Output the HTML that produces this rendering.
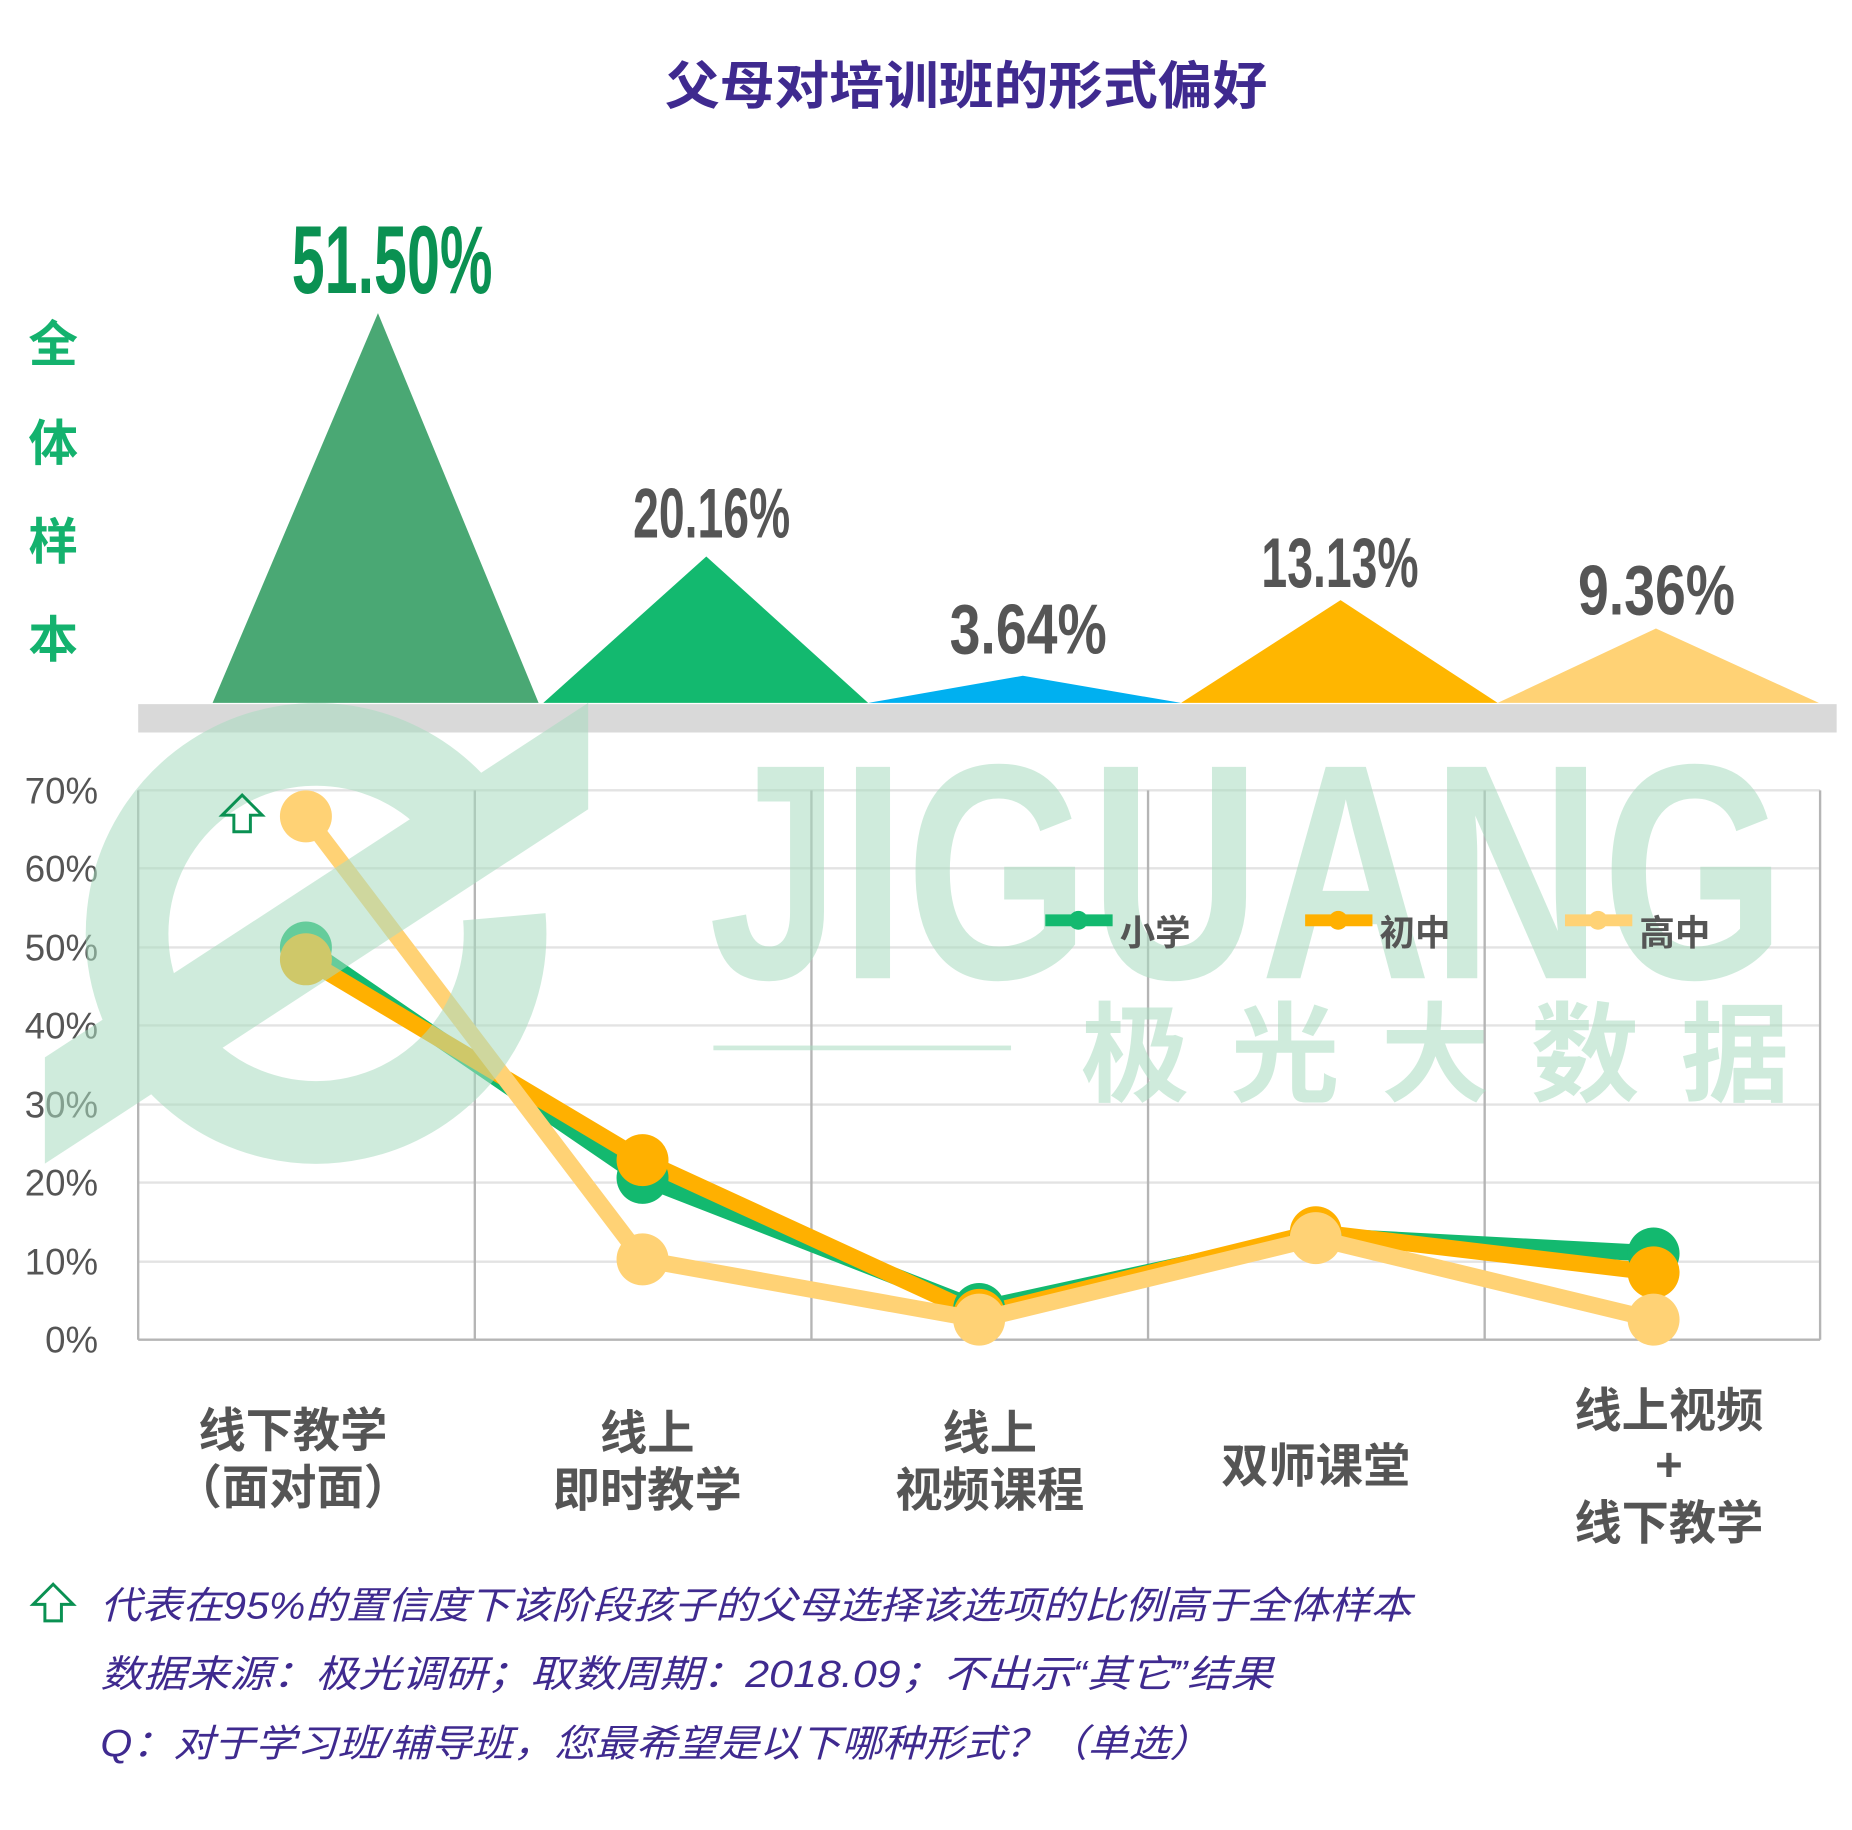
<!DOCTYPE html>
<html><head><meta charset="utf-8"><style>
html,body{margin:0;padding:0;background:#fff;}
svg{display:block;}
text{font-family:"Liberation Sans","Noto Sans CJK SC",sans-serif;}
</style></head><body>
<svg width="1852" height="1830" viewBox="0 0 1568 1549" preserveAspectRatio="none" xmlns="http://www.w3.org/2000/svg">
<rect width="1568" height="1549" fill="#fff"/>
<text x="563" y="88" font-size="44" font-weight="bold" fill="#3f2a8f" textLength="510" lengthAdjust="spacingAndGlyphs">父母对培训班的形式偏好</text>
<g font-size="42" font-weight="bold" fill="#14b26e" text-anchor="middle">
<text x="45" y="306">全</text><text x="45" y="390">体</text><text x="45" y="473">样</text><text x="45" y="556">本</text>
</g>
<polygon points="180,595 320,265 456,595" fill="#4aa874"/>
<polygon points="460,595 598,471 735,595" fill="#13b96f"/>
<polygon points="735,595 866,572 1000,595" fill="#00b0f0"/>
<polygon points="1000,595 1135,508 1268,595" fill="#ffb600"/>
<polygon points="1268,595 1402,532 1540,595" fill="#ffd275"/>
<g font-weight="bold">
<text x="247" y="248" font-size="82" fill="#0a9152" textLength="170" lengthAdjust="spacingAndGlyphs">51.50%</text>
<text x="536" y="455" font-size="60" fill="#555" textLength="133" lengthAdjust="spacingAndGlyphs">20.16%</text>
<text x="804" y="553" font-size="60" fill="#555" textLength="133" lengthAdjust="spacingAndGlyphs">3.64%</text>
<text x="1068" y="497" font-size="60" fill="#555" textLength="133" lengthAdjust="spacingAndGlyphs">13.13%</text>
<text x="1336" y="520" font-size="60" fill="#555" textLength="133" lengthAdjust="spacingAndGlyphs">9.36%</text>
</g>
<rect x="117" y="596" width="1438" height="24" fill="#d9d9d9"/>
<g stroke="#e3e3e3" stroke-width="2">
<line x1="117" y1="669" x2="1541" y2="669"/><line x1="117" y1="735" x2="1541" y2="735"/>
<line x1="117" y1="802" x2="1541" y2="802"/><line x1="117" y1="868" x2="1541" y2="868"/>
<line x1="117" y1="935" x2="1541" y2="935"/><line x1="117" y1="1001" x2="1541" y2="1001"/>
<line x1="117" y1="1068" x2="1541" y2="1068"/>
</g>
<g stroke="#b5b5b5" stroke-width="2">
<line x1="117" y1="669" x2="117" y2="1134"/><line x1="402" y1="669" x2="402" y2="1134"/>
<line x1="687" y1="669" x2="687" y2="1134"/><line x1="972" y1="669" x2="972" y2="1134"/>
<line x1="1257" y1="669" x2="1257" y2="1134"/><line x1="1541" y1="669" x2="1541" y2="1134"/>
<line x1="117" y1="1134" x2="1541" y2="1134"/>
</g>
<g font-size="31" fill="#555" text-anchor="end">
<text x="83" y="680">70%</text><text x="83" y="746">60%</text><text x="83" y="813">50%</text>
<text x="83" y="879">40%</text><text x="83" y="946">30%</text><text x="83" y="1012">20%</text>
<text x="83" y="1079">10%</text><text x="83" y="1145">0%</text>
</g>
<g stroke-linejoin="round" fill="none" stroke-width="14">
<polyline points="259,802 544,997 829,1108 1114,1046 1400,1061" stroke="#13b96f"/>
<polyline points="259,812 544,982 829,1113 1114,1043 1400,1077" stroke="#ffb000"/>
</g>
<g fill="#13b96f"><circle cx="259" cy="802" r="22"/><circle cx="544" cy="997" r="22"/><circle cx="829" cy="1108" r="22"/><circle cx="1114" cy="1046" r="22"/><circle cx="1400" cy="1061" r="22"/></g>
<g fill="#ffb000"><circle cx="259" cy="812" r="22"/><circle cx="544" cy="982" r="22"/><circle cx="829" cy="1113" r="22"/><circle cx="1114" cy="1043" r="22"/><circle cx="1400" cy="1077" r="22"/></g>
<polyline points="259,691 544,1066 829,1117 1114,1048 1400,1117" stroke="#ffd275" stroke-width="14" fill="none" stroke-linejoin="round"/>
<g fill="#ffd275"><circle cx="259" cy="691" r="22"/><circle cx="544" cy="1066" r="22"/><circle cx="829" cy="1117" r="22"/><circle cx="1114" cy="1048" r="22"/><circle cx="1400" cy="1117" r="22"/></g>
<!-- watermark -->
<g opacity="0.55">
<path d="M390,687 A160,160 0 1 0 427,776" fill="none" stroke="#a9dcc0" stroke-width="70"/>
<polygon points="38,985 38,895 498,595 498,685" fill="#a9dcc0"/>
<g fill="#a9dcc0">
<text x="600" y="828" font-size="260" font-weight="bold" textLength="912" lengthAdjust="spacingAndGlyphs">JIGUANG</text>
<text x="915" y="925" font-size="92" font-weight="bold" textLength="600" lengthAdjust="spacing">极光大数据</text>
<rect x="604" y="885" width="252" height="4"/>
</g>
</g>
<g font-size="30" font-weight="bold" fill="#555">
<line x1="885" y1="779" x2="942" y2="779" stroke="#13b96f" stroke-width="10"/><circle cx="913" cy="779" r="8" fill="#13b96f"/><text x="948" y="800">小学</text>
<line x1="1105" y1="779" x2="1162" y2="779" stroke="#ffb000" stroke-width="10"/><circle cx="1133" cy="779" r="8" fill="#ffb000"/><text x="1168" y="800">初中</text>
<line x1="1325" y1="779" x2="1382" y2="779" stroke="#ffd275" stroke-width="10"/><circle cx="1353" cy="779" r="8" fill="#ffd275"/><text x="1388" y="800">高中</text>
</g>
<polygon points="205,673 222,690 212,690 212,704 198,704 198,690 188,690" fill="none" stroke="#0a9152" stroke-width="2.5"/>
<g font-size="40" font-weight="bold" fill="#555" text-anchor="middle">
<text x="248" y="1225">线下教学</text><text x="248" y="1273">（面对面）</text>
<text x="548" y="1227">线上</text><text x="548" y="1275">即时教学</text>
<text x="838" y="1227">线上</text><text x="838" y="1275">视频课程</text>
<text x="1114" y="1255">双师课堂</text>
<text x="1413" y="1208">线上视频</text><text x="1413" y="1253">+</text><text x="1413" y="1303">线下教学</text>
</g>
<polygon points="45,1341 62,1358 52,1358 52,1372 38,1372 38,1358 28,1358" fill="none" stroke="#0a9152" stroke-width="2.5"/>
<g font-size="32" fill="#3f2a8f" font-style="italic">
<text x="85" y="1370" textLength="1110" lengthAdjust="spacingAndGlyphs">代表在95%的置信度下该阶段孩子的父母选择该选项的比例高于全体样本</text>
<text x="85" y="1428" textLength="993" lengthAdjust="spacingAndGlyphs">数据来源：极光调研；取数周期：2018.09；不出示“其它”结果</text>
<text x="85" y="1487" textLength="940" lengthAdjust="spacingAndGlyphs">Q：对于学习班/辅导班，您最希望是以下哪种形式？（单选）</text>
</g>
</svg>
</body></html>
